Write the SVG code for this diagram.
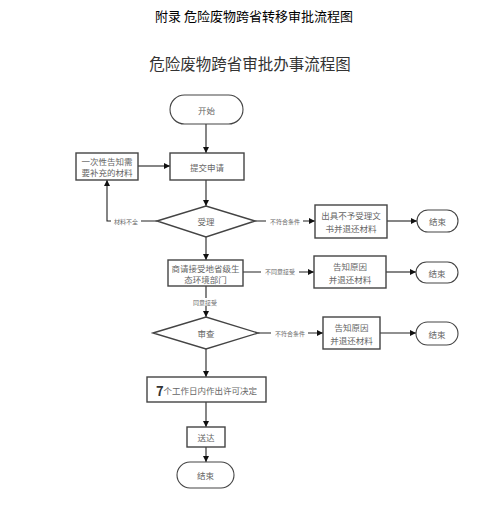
<svg xmlns="http://www.w3.org/2000/svg" width="486" height="515" viewBox="0 0 486 515">
<defs>
<marker id="ah" viewBox="0 0 10 10" refX="10" refY="5" markerWidth="6" markerHeight="6" orient="auto" markerUnits="userSpaceOnUse">
<path d="M0,0 L10,5 L0,10 z" fill="#111"/>
</marker>
<style>
.box{fill:#fff;stroke:#444;stroke-width:1.4}
.term{fill:#fff;stroke:#444;stroke-width:1.1}
.t{font-family:"Noto Sans CJK SC","Noto Sans",sans-serif;font-size:8.5px;fill:#666;text-anchor:middle;dominant-baseline:central}
.lbl{font-family:"Noto Sans CJK SC","Noto Sans",sans-serif;font-size:6px;fill:#666;text-anchor:middle;dominant-baseline:central}
.ln{fill:none;stroke:#222;stroke-width:1.1}
.bg{fill:#fff}
</style>
</defs>
<rect width="486" height="515" fill="#fff"/>
<text x="254" y="15" font-family="'Noto Sans CJK SC',sans-serif" font-size="13" fill="#000" text-anchor="middle" dominant-baseline="central">附录 危险废物跨省转移审批流程图</text>
<text x="250" y="63" font-family="'Noto Sans CJK SC',sans-serif" font-size="15.5" fill="#333" text-anchor="middle" dominant-baseline="central">危险废物跨省审批办事流程图</text>

<g id="connectors">
<path class="ln" d="M206,124 V153" marker-end="url(#ah)"/>
<path class="ln" d="M138,166 H170" marker-end="url(#ah)"/>
<path class="ln" d="M206,180 V206" marker-end="url(#ah)"/>
<path class="ln" d="M157,221 H107 V180" marker-end="url(#ah)"/>
<rect class="bg" x="111" y="217" width="30" height="8"/>
<text class="lbl" x="126" y="221">材料不全</text>
<path class="ln" d="M255,221 H315" marker-end="url(#ah)"/>
<rect class="bg" x="266" y="217" width="37" height="8"/>
<text class="lbl" x="285" y="221">不符合条件</text>
<path class="ln" d="M387,221 H417" marker-end="url(#ah)"/>
<path class="ln" d="M206,237 V260" marker-end="url(#ah)"/>
<path class="ln" d="M243,272 H314" marker-end="url(#ah)"/>
<rect class="bg" x="261" y="268" width="38" height="8"/>
<text class="lbl" x="280" y="271">不同意接受</text>
<path class="ln" d="M386,272 H416" marker-end="url(#ah)"/>
<path class="ln" d="M206,286 V317" marker-end="url(#ah)"/>
<rect class="bg" x="190" y="298" width="31" height="8"/>
<text class="lbl" x="205" y="302">同意接受</text>
<path class="ln" d="M258,333 H323" marker-end="url(#ah)"/>
<rect class="bg" x="271" y="329" width="37" height="8"/>
<text class="lbl" x="290" y="333">不符合条件</text>
<path class="ln" d="M380,333 H416" marker-end="url(#ah)"/>
<path class="ln" d="M206,349 V377" marker-end="url(#ah)"/>
<path class="ln" d="M206,402 V427" marker-end="url(#ah)"/>
<path class="ln" d="M206,447 V462" marker-end="url(#ah)"/>
</g>

<g id="start"><rect class="term" x="170" y="95" width="73" height="29" rx="14.5"/><text class="t" x="206.5" y="109.5">开始</text></g>
<g id="submit"><rect class="box" x="170" y="153" width="74" height="27"/><text class="t" x="207" y="166.5">提交申请</text></g>
<g id="notify"><rect class="box" x="76" y="153" width="62" height="27"/><text class="t" x="107" y="161">一次性告知需</text><text class="t" x="107" y="172">要补充的材料</text></g>
<g id="accept"><polygon class="box" points="157,221 206,206 255,221 206,237"/><text class="t" x="206" y="221">受理</text></g>
<g id="reject1"><rect class="box" x="315" y="205" width="72" height="33"/><text class="t" x="351" y="215">出具不予受理文</text><text class="t" x="351" y="228">书并退还材料</text></g>
<g id="end1"><rect class="term" x="417" y="210" width="41" height="22" rx="11"/><text class="t" x="437.5" y="221">结束</text></g>
<g id="consult"><rect class="box" x="168" y="260" width="75" height="26"/><text class="t" x="205.5" y="268">商请接受地省级生</text><text class="t" x="205.5" y="279">态环境部门</text></g>
<g id="reject2"><rect class="box" x="314" y="256" width="72" height="32"/><text class="t" x="350" y="266">告知原因</text><text class="t" x="350" y="279">并退还材料</text></g>
<g id="end2"><rect class="term" x="416" y="262" width="42" height="21" rx="10.5"/><text class="t" x="437" y="272.5">结束</text></g>
<g id="review"><polygon class="box" points="153,333 206,317 258,333 206,349"/><text class="t" x="206" y="333">审查</text></g>
<g id="reject3"><rect class="box" x="323" y="317" width="57" height="32"/><text class="t" x="351.5" y="327">告知原因</text><text class="t" x="351.5" y="340">并退还材料</text></g>
<g id="end3"><rect class="term" x="416" y="322" width="42" height="23" rx="11.5"/><text class="t" x="437" y="333.5">结束</text></g>
<g id="decide"><rect class="box" x="147" y="377" width="119" height="25"/><text class="t" x="206.5" y="389.5"><tspan font-size="13" font-weight="bold" fill="#333">7</tspan>个工作日内作出许可决定</text></g>
<g id="deliver"><rect class="box" x="187" y="427" width="38" height="20"/><text class="t" x="206" y="437">送达</text></g>
<g id="end4"><rect class="term" x="177" y="462" width="57" height="26" rx="13"/><text class="t" x="205.5" y="475">结束</text></g>
</svg>
